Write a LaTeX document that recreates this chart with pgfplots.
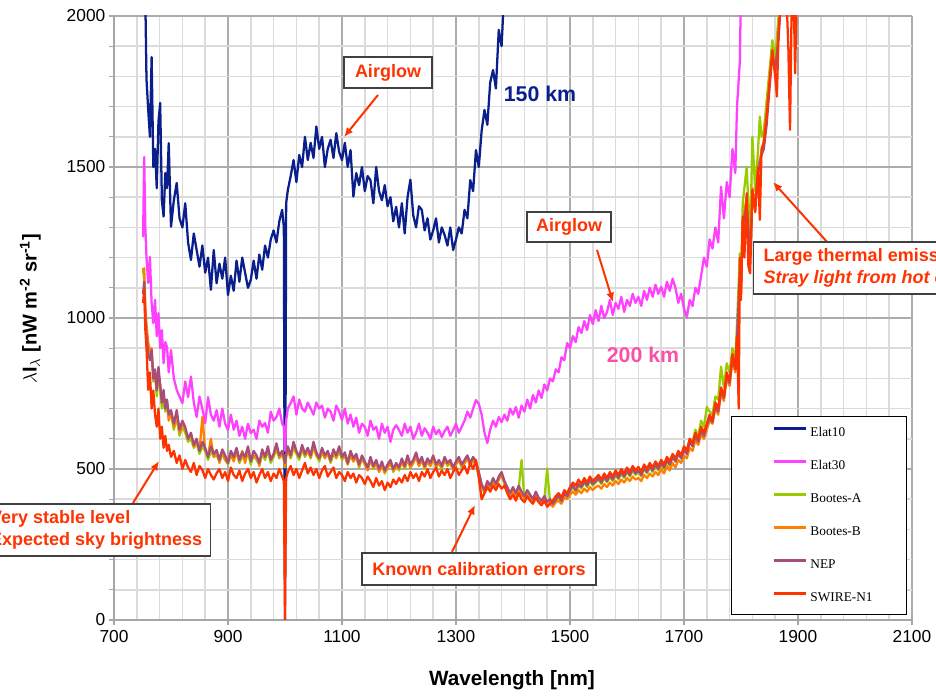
\documentclass[border=0pt]{standalone}
\usepackage{fontspec}
\setmainfont{Liberation Sans}
\newfontfamily\legendfont{Liberation Serif}
\usepackage{pgfplots}
\usepackage{pgfplotstable}
\pgfplotsset{compat=1.18}
\usetikzlibrary{arrows.meta}

\definecolor{cElatTen}{RGB}{10,30,140}
\definecolor{cElatThirty}{RGB}{255,64,255}
\definecolor{cBootesA}{RGB}{153,204,0}
\definecolor{cBootesB}{RGB}{255,128,0}
\definecolor{cNEP}{RGB}{166,77,121}
\definecolor{cSWIRE}{RGB}{255,51,0}
\definecolor{cNote}{RGB}{255,51,0}
\definecolor{cPink}{RGB}{250,80,170}
\definecolor{cBoxEdge}{RGB}{64,64,64}

% Sky spectra: wavelength [nm] and lambda*I_lambda [nW m^-2 sr^-1] per field
\pgfplotstableread{
l e10 e30 ba bb nep sw
751 nan 1268 1165 1150 1080 1050
753 2150 1533 1120 1165 1120 1093
755 2050 1300 1010 1040 1000 960
757 1790 1200 960 980 940 900
760 1690 1116 900 920 880 762
763 1600 1202 870 890 860 820
766 1864 1050 880 900 894 700
769 1500 983 790 810 800 760
772 1560 1060 820 800 830 680
775 1430 940 740 770 760 640
778 1650 1016 820 800 838 700
781 1712 900 760 780 780 600
784 1390 960 700 720 720 640
787 1336 850 740 750 762 570
790 1480 920 690 700 700 610
793 1430 904 710 720 730 560
796 1579 820 670 660 680 580
800 1302 894 680 690 695 540
805 1390 800 630 640 650 560
810 1447 762 670 680 695 520
815 1330 740 610 620 630 545
820 1300 718 640 650 660 500
825 1380 790 620 630 639 530
830 1250 738 590 600 600 505
835 1192 806 600 615 620 490
840 1280 720 570 575 580 520
845 1225 672 585 590 600 480
850 1170 740 550 560 560 510
855 1240 700 575 672 590 497
860 1150 652 560 560 570 470
865 1200 738 530 545 540 500
870 1093 680 560 600 575 480
875 1225 660 540 540 550 465
880 1115 695 545 560 563 486
885 1180 640 525 520 530 500
890 1130 700 550 560 565 470
895 1200 650 530 530 545 490
900 1076 629 515 525 520 460
905 1140 680 545 550 560 505
910 1090 630 530 525 540 480
915 1190 660 555 560 570 470
920 1120 610 520 525 530 495
925 1200 640 540 560 555 460
930 1150 600 530 520 540 485
935 1100 650 555 560 575 500
940 1126 619 515 530 525 470
945 1190 630 545 540 560 490
950 1130 600 530 545 545 455
955 1210 660 515 510 520 480
960 1160 640 550 555 565 500
965 1240 652 530 545 540 470
970 1200 620 560 555 575 490
975 1260 690 520 535 530 460
980 1290 660 540 545 550 485
985 1250 672 565 575 585 470
990 1320 700 535 540 545 500
995 1358 650 550 545 560 475
998 1300 640 530 535 540 460
1000 0 560 505 510 520 0
1002 1380 660 540 545 550 470
1005 1424 700 560 565 575 490
1010 1470 718 535 540 545 510
1015 1523 740 570 580 590 480
1020 1450 680 550 555 560 500
1025 1540 730 530 540 540 470
1030 1500 700 565 570 580 495
1035 1600 690 540 545 550 520
1040 1523 720 560 560 570 485
1045 1580 700 535 540 545 505
1050 1530 680 570 580 590 480
1055 1634 720 545 545 555 500
1060 1560 700 525 535 535 470
1065 1600 710 555 560 570 495
1070 1500 670 540 535 545 510
1075 1560 700 550 555 560 475
1080 1590 690 520 525 530 490
1085 1530 660 550 555 565 505
1090 1612 710 535 540 545 470
1095 1550 690 560 565 575 490
1100 1523 662 530 535 540 480
1105 1580 700 545 545 555 460
1110 1500 650 515 515 520 490
1115 1556 680 545 550 560 470
1120 1402 640 525 525 535 485
1125 1480 670 540 540 550 455
1130 1440 620 505 510 515 480
1135 1500 650 535 540 545 470
1140 1420 640 515 515 525 450
1145 1470 610 500 495 505 475
1150 1456 660 530 530 540 460
1155 1380 630 500 505 510 440
1160 1500 640 520 520 530 470
1165 1420 600 495 490 500 445
1170 1390 650 515 510 525 460
1175 1440 620 485 490 495 430
1180 1370 640 505 505 515 455
1185 1400 590 520 520 530 440
1190 1320 630 490 495 500 465
1195 1368 645 510 510 520 450
1200 1300 629 495 500 505 470
1205 1380 610 525 525 535 455
1210 1280 650 500 505 510 480
1215 1400 620 535 530 545 460
1220 1458 640 505 505 515 490
1225 1340 600 520 520 530 470
1230 1300 620 545 540 555 485
1235 1370 650 510 510 520 460
1240 1358 610 530 530 540 490
1245 1290 635 500 505 510 475
1250 1330 620 525 525 535 500
1255 1260 600 510 510 520 470
1260 1290 640 535 535 545 490
1265 1330 615 505 510 515 505
1270 1250 630 520 520 530 475
1275 1300 606 500 505 510 495
1280 1275 625 530 530 540 480
1285 1240 640 510 515 520 500
1290 1300 610 520 520 530 470
1295 1225 629 495 500 505 490
1300 1260 650 515 515 525 505
1305 1300 620 530 530 540 480
1310 1280 640 505 510 515 495
1315 1358 660 520 520 530 510
1320 1330 690 535 535 545 485
1325 1457 670 510 515 520 520
1330 1420 700 530 530 540 500
1335 1556 728 515 520 525 530
1340 1500 716 480 485 490 470
1345 1620 680 440 445 450 400
1350 1689 620 420 425 430 420
1355 1640 586 450 450 460 440
1360 1780 630 435 440 445 425
1365 1821 660 460 460 470 445
1370 1760 640 440 445 450 430
1375 1954 672 465 465 475 450
1380 1900 655 480 480 490 435
1385 2100 680 450 455 460 445
1390 nan 660 430 435 440 420
1395 nan 700 410 415 420 400
1400 nan 680 430 430 440 415
1405 nan 705 410 410 420 395
1410 nan 670 435 435 445 420
1415 nan 710 530 415 425 400
1420 nan 690 400 405 410 390
1425 nan 730 420 420 430 410
1430 nan 700 405 405 415 395
1435 nan 745 390 395 400 385
1440 nan 720 415 415 425 405
1445 nan 760 395 395 405 390
1450 nan 735 385 385 395 380
1455 nan 780 400 395 410 395
1460 nan 760 502 380 390 375
1465 nan 800 390 385 400 385
1470 nan 790 380 375 385 395
1475 nan 830 395 390 400 410
1480 nan 820 405 395 410 420
1485 nan 870 390 385 395 405
1490 nan 860 415 405 420 430
1495 nan 917 405 400 410 420
1500 nan 900 425 415 430 440
1505 nan 940 440 425 445 455
1510 nan 920 425 415 430 445
1515 nan 970 445 430 450 465
1520 nan 950 435 420 440 450
1525 nan 990 455 435 460 470
1530 nan 960 440 425 445 455
1535 nan 1010 460 440 465 475
1540 nan 980 445 430 450 460
1545 nan 1026 455 440 460 470
1550 nan 990 465 445 470 480
1555 nan 1040 450 435 455 465
1560 nan 1000 470 450 475 485
1565 nan 1020 455 440 460 470
1570 nan 1060 475 455 480 490
1575 nan 1010 460 445 465 475
1580 nan 1050 480 460 485 495
1585 nan 1030 465 450 470 480
1590 nan 1070 485 465 490 500
1595 nan 1020 470 455 475 485
1600 nan 1060 490 470 495 505
1605 nan 1040 475 460 480 490
1610 nan 1080 495 475 500 510
1615 nan 1050 480 465 485 495
1620 nan 1070 490 470 495 507
1625 nan 1040 475 460 480 490
1630 nan 1090 500 480 505 515
1635 nan 1060 485 470 490 500
1640 nan 1100 505 485 510 520
1645 nan 1070 490 475 495 505
1650 nan 1110 510 490 515 525
1655 nan 1080 495 480 500 510
1660 nan 1103 515 500 520 530
1665 nan 1070 500 485 505 515
1670 nan 1120 525 510 530 540
1675 nan 1090 510 495 515 525
1680 nan 1130 540 520 540 550
1685 nan 1100 525 505 525 535
1690 nan 1050 555 530 550 560
1695 nan 1080 540 520 535 545
1700 nan 1030 575 545 565 575
1705 nan 1003 560 535 550 560
1710 nan 1060 600 570 590 600
1715 nan 1040 590 560 575 585
1720 nan 1100 630 595 610 620
1725 nan 1080 610 580 590 600
1730 nan 1140 660 615 630 640
1735 nan 1200 640 600 610 620
1740 nan 1170 706 630 645 650
1745 nan 1260 690 660 670 680
1750 nan 1230 680 650 655 660
1755 nan 1300 740 700 710 720
1760 nan 1250 730 680 690 700
1765 nan 1435 839 750 760 770
1770 nan 1330 770 725 735 740
1775 nan 1450 850 800 810 820
1780 nan 1400 820 775 785 790
1785 nan 1560 900 860 870 880
1790 nan 1480 860 820 830 830
1793 nan 1700 982 930 930 940
1796 nan nan nan nan nan 700
1798 nan 1850 1214 1150 1150 1200
1800 nan 2100 1100 1080 1100 1060
1803 nan nan 1380 1320 1300 1336
1806 nan nan nan nan nan 1200
1810 nan nan 1501 1400 1380 1413
1813 nan nan nan nan nan 1170
1816 nan nan 1250 1180 1200 1148
1820 nan nan 1600 1430 1400 1424
1825 nan nan 1420 1370 1380 1350
1830 nan nan 1560 1500 1480 1500
1833 nan nan 1667 nan nan 1325
1836 nan nan 1600 1550 1540 1560
1840 nan nan 1620 1590 1560 1579
1845 nan nan 1720 1680 1640 1667
1850 nan nan 1820 1790 1760 1778
1855 nan nan 1920 1880 1870 1887
1860 nan nan 1860 1810 1820 1800
1863 nan nan nan nan nan 1733
1866 nan nan 2000 1950 1930 1950
1870 nan nan 2100 2050 2050 2050
1875 nan nan 2100 2100 2100 2100
1880 nan nan 2100 2100 2100 2050
1883 nan nan nan nan nan 1900
1886 nan nan 2100 2050 2050 1623
1889 nan nan nan nan nan 2050
1892 nan nan 2100 2100 2100 2100
1895 nan nan 2100 2000 2100 1810
1898 nan nan nan nan nan 2100
1900 nan nan 2200 2200 2200 2200
}\spectra

\tikzset{
  notebox/.style={draw=cBoxEdge, line width=1.1pt, fill=white, text=cNote,
    font=\fontsize{13.5}{16}\selectfont\bfseries},
  note arrow/.style={draw=cNote, line width=1.5pt, -{Latex[length=7pt,width=6pt]}},
}

\begin{document}
\begin{tikzpicture}
\begin{axis}[
  at={(0pt,0pt)}, anchor=south west,
  scale only axis, width=598.5pt, height=453pt,
  xmin=700, xmax=2100, ymin=0, ymax=2000,
  xtick={700,900,...,2100}, ytick={0,500,...,2000},
  minor x tick num=4, minor y tick num=4,
  grid=both,
  major grid style={draw=gray!65, line width=1.1pt},
  minor grid style={draw=gray!28, line width=1.1pt},
  axis x line*=bottom, axis y line*=left,
  axis line style={draw=gray!70, line width=1.1pt, -},
  tick style={draw=gray!70, line width=0.8pt},
  minor x tick style={draw=none},
  tick align=outside, major tick length=4pt, minor tick length=4pt,
  /pgf/number format/assume math mode=true,
  /pgf/number format/1000 sep={},
  ticklabel style={font=\fontsize{13}{15}\selectfont},
  yticklabel style={xshift=1pt},
  xlabel={Wavelength [nm]},
  xlabel style={at={(axis description cs:0.4987,-0.0993)}, anchor=center,
    font=\fontsize{15.5}{18}\selectfont\bfseries},
  ylabel={$\lambda$\textbf{I}$_{\lambda}$ \textbf{[nW m\textsuperscript{-2} sr\textsuperscript{-1}]}},
  ylabel style={at={(axis description cs:-0.105,0.515)}, anchor=center,
    font=\fontsize{15}{18}\selectfont},
  unbounded coords=discard,
  every axis plot/.append style={line width=1.7pt, line join=round, mark=none},
  legend style={at={(rel axis cs:0.9937,0.0083)}, anchor=south east,
    draw=black, line width=0.8pt, fill=white,
    inner xsep=0pt, inner ysep=0pt, row sep=0pt, column sep=0pt,
    font=\legendfont\fontsize{10}{12}\selectfont,
    nodes={inner sep=0pt, text width=72pt, minimum height=24.75pt, align=left}},
  legend cell align=left,
  legend image code/.code={
    \path[draw=none] (0pt,0pt) -- (59pt,0pt);
    \draw[#1, line width=2pt] (31.5pt,3.5pt) -- (56pt,3.5pt);},
]
\addplot[cElatTen] table[x=l, y=e10] {\spectra};
\addlegendentry{Elat10}
\addplot[cElatThirty] table[x=l, y=e30] {\spectra};
\addlegendentry{Elat30}
\addplot[cBootesA] table[x=l, y=ba] {\spectra};
\addlegendentry{Bootes-A}
\addplot[cBootesB] table[x=l, y=bb] {\spectra};
\addlegendentry{Bootes-B}
\addplot[cNEP] table[x=l, y=nep] {\spectra};
\addlegendentry{NEP}
\addplot[cSWIRE] table[x=l, y=sw] {\spectra};
\addlegendentry{SWIRE-N1}
\end{axis}

% annotations, placed in a frame measured from the picture's top-left corner
\begin{scope}[shift={(-85.5pt,465pt)}, x=0.75pt, y=-0.75pt]
  \draw[note arrow] (378,95) -- (344,137);
  \node[notebox, minimum width=66pt, minimum height=23.25pt] at (388,72.5) {Airglow};
  \node[font=\fontsize{16}{19}\selectfont\bfseries, text=cElatTen] at (540,94) {150 km};

  \draw[note arrow] (597,250) -- (613,302);
  \node[notebox, minimum width=63pt, minimum height=22.5pt] at (569,227) {Airglow};
  \node[font=\fontsize{16}{19}\selectfont\bfseries, text=cPink] at (643,355) {200 km};

  \draw[note arrow] (828,243) -- (773,182);
  \node[notebox, anchor=west, align=left, inner xsep=7.5pt, minimum height=39pt]
    at (753,268) {Large thermal emission\\\textit{Stray light from hot optics}};

  \draw[note arrow] (133,503) -- (159,461);
  \node[notebox, anchor=east, align=left, inner xsep=6pt, minimum height=39pt]
    at (211,530) {Very stable level\\Expected sky brightness};

  \draw[note arrow] (452,552) -- (475,505);
  \node[notebox, minimum width=175.5pt, minimum height=24pt] at (479,569) {Known calibration errors};
\end{scope}

\pgfresetboundingbox
\path[use as bounding box] (-85.5pt,-58.5pt) rectangle (616.5pt,465pt);
\end{tikzpicture}
\end{document}
